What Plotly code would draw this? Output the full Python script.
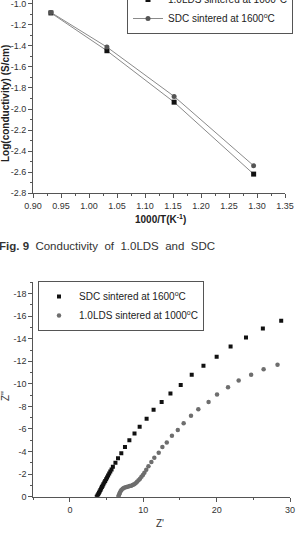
import plotly.graph_objects as go

# ---- top chart data (Arrhenius plot) ----
inv_T = [0.932, 1.032, 1.152, 1.294]
log_sigma_lds = [-1.085, -1.445, -1.935, -2.62]
log_sigma_sdc = [-1.08, -1.41, -1.88, -2.54]

# ---- bottom chart data (impedance) ----
sdc_zre = [3.65, 3.75, 3.85, 3.95, 4.05, 4.15, 4.25, 4.35, 4.45, 4.55, 4.68, 4.8, 4.93, 5.06,
           5.2, 5.35, 5.5, 5.67, 5.85, 6.2, 6.55, 7.0, 7.5, 8.1, 8.8, 9.5, 10.45, 11.4, 12.5,
           13.7, 15.1, 16.6, 18.2, 20.0, 21.9, 24.0, 26.3, 28.8]
sdc_zim = [0, -0.1, -0.22, -0.35, -0.47, -0.6, -0.72, -0.85, -0.97, -1.1, -1.25, -1.4, -1.55,
           -1.7, -1.87, -2.05, -2.23, -2.42, -2.65, -3.0, -3.4, -3.85, -4.4, -5.0, -5.6, -6.2,
           -6.9, -7.7, -8.4, -9.15, -9.9, -10.8, -11.6, -12.4, -13.3, -14.1, -14.9, -15.6]
lds_zre = [6.6, 6.65, 6.72, 6.8, 6.9, 7.02, 7.18, 7.35, 7.55, 7.75, 7.95, 8.15, 8.35, 8.55,
           8.75, 8.95, 9.15, 9.35, 9.55, 9.75, 9.95, 10.15, 10.4, 10.7, 11.1, 11.5, 12.1, 12.6,
           13.2, 13.9, 14.7, 15.5, 16.5, 17.5, 18.9, 20.05, 21.55, 23.0, 24.7, 26.4, 28.3]
lds_zim = [0, -0.1, -0.22, -0.35, -0.48, -0.6, -0.7, -0.78, -0.83, -0.87, -0.9, -0.94, -0.98,
           -1.03, -1.1, -1.2, -1.32, -1.45, -1.6, -1.76, -1.93, -2.12, -2.38, -2.7, -3.07,
           -3.45, -3.9, -4.4, -4.8, -5.4, -5.9, -6.5, -7.17, -7.76, -8.4, -9.06, -9.7, -10.3,
           -10.8, -11.3, -11.7]

top_xticks = [0.90, 0.95, 1.00, 1.05, 1.10, 1.15, 1.20, 1.25, 1.30, 1.35]
top_yticks = [-1.0, -1.2, -1.4, -1.6, -1.8, -2.0, -2.2, -2.4, -2.6, -2.8]
bot_xticks = [0, 10, 20, 30]
bot_yticks = [0, -2, -4, -6, -8, -10, -12, -14, -16, -18]

W, H = 299, 533
NARROW = "Liberation Sans Narrow, Arial Narrow, Liberation Sans, Arial, sans-serif"
SANS = "Liberation Sans, Arial, sans-serif"
AX = "#555555"

def px(x):
    return x / W

def py(y):
    return 1 - y / H

fig = go.Figure()

fig.add_trace(go.Scatter(
    x=inv_T, y=log_sigma_lds, mode="lines+markers", name="1.0LDS sintered at 1000<sup>o</sup>C",
    line=dict(color="#8a8a8a", width=1), marker=dict(symbol="square", size=5, color="#111111"),
    xaxis="x", yaxis="y", legend="legend"))
fig.add_trace(go.Scatter(
    x=inv_T, y=log_sigma_sdc, mode="lines+markers", name="SDC sintered at 1600<sup>o</sup>C",
    line=dict(color="#8a8a8a", width=1), marker=dict(symbol="circle", size=5, color="#555555"),
    xaxis="x", yaxis="y", legend="legend"))

fig.add_trace(go.Scatter(
    x=sdc_zre, y=sdc_zim, mode="markers", name="SDC sintered at 1600<sup>o</sup>C",
    marker=dict(symbol="square", size=4, color="#111111"),
    xaxis="x2", yaxis="y2", legend="legend2"))
fig.add_trace(go.Scatter(
    x=lds_zre, y=lds_zim, mode="markers", name="1.0LDS sintered at 1000<sup>o</sup>C",
    marker=dict(symbol="circle", size=4.5, color="#6e6e6e"),
    xaxis="x2", yaxis="y2", legend="legend2"))

axis_common = dict(showline=True, linecolor=AX, linewidth=1, ticks="outside", ticklen=4,
                   tickcolor=AX, tickwidth=1, showgrid=False, zeroline=False,
                   ticklabeloverflow="allow",
                   tickfont=dict(family=NARROW, size=9, color="#333333"))

fig.update_layout(
    width=W, height=H, margin=dict(l=0, r=0, t=0, b=0, autoexpand=False),
    paper_bgcolor="white", plot_bgcolor="white",
    xaxis=dict(domain=[px(33), px(285)], range=[0.90, 1.35], tickvals=top_xticks,
               ticktext=[f"{v:.2f}" for v in top_xticks], anchor="y",
               minor=dict(dtick=0.025, tick0=0.9, ticks="outside", ticklen=2, tickcolor=AX, showgrid=False),
               **axis_common),
    yaxis=dict(domain=[py(193), 1], range=[-2.8, -0.962], tickvals=top_yticks,
               ticktext=[f"{v:.1f}" for v in top_yticks], anchor="x",
               minor=dict(dtick=0.1, tick0=-2.8, ticks="outside", ticklen=2, tickcolor=AX, showgrid=False),
               **axis_common),
    xaxis2=dict(domain=[px(33.3), px(290)], range=[-5, 30], tickvals=bot_xticks, anchor="y2",
                minor=dict(dtick=5, tick0=-5, ticks="outside", ticklen=2, tickcolor=AX, showgrid=False),
                **axis_common),
    yaxis2=dict(domain=[py(496.7), py(282.3)], range=[0, -19], tickvals=bot_yticks,
                ticktext=[str(v) for v in bot_yticks], anchor="x2",
                minor=dict(dtick=1, tick0=0, ticks="outside", ticklen=2, tickcolor=AX, showgrid=False),
                **axis_common),
    legend=dict(x=px(127), y=py(-16), xanchor="left", yanchor="top", bgcolor="white",
                bordercolor=AX, borderwidth=1, tracegroupgap=0, itemwidth=30,
                font=dict(family=NARROW, size=10, color="#222222")),
    legend2=dict(x=px(38), y=py(281), xanchor="left", yanchor="top", bgcolor="white",
                 bordercolor=AX, borderwidth=1, tracegroupgap=0, itemwidth=30,
                 font=dict(family=NARROW, size=10, color="#222222")),
    showlegend=True,
)

annotations = [
    dict(text="<b>Log(conductivity) (S/cm)</b>", x=px(6), y=py(104), textangle=-90,
         font=dict(family=NARROW, size=10, color="#222222")),
    dict(text="<b>1000/T(K<sup>-1</sup>)</b>", x=px(160), y=py(219),
         font=dict(family=NARROW, size=10, color="#222222")),
    dict(text="<b>Fig. 9</b>  Conductivity  of  1.0LDS  and  SDC", x=px(-3), y=py(246),
         xanchor="left", font=dict(family=SANS, size=11.5, color="#333333")),
    dict(text="Z'", x=px(160), y=py(523), font=dict(family=NARROW, size=10, color="#333333")),
    dict(text="Z''", x=px(5), y=py(396), textangle=-90,
         font=dict(family=NARROW, size=10, color="#333333")),
]
for a in annotations:
    a.update(xref="paper", yref="paper", showarrow=False)
    a.setdefault("xanchor", "center")
    a.setdefault("yanchor", "middle")
fig.update_layout(annotations=annotations)

fig.write_html("out.html")
